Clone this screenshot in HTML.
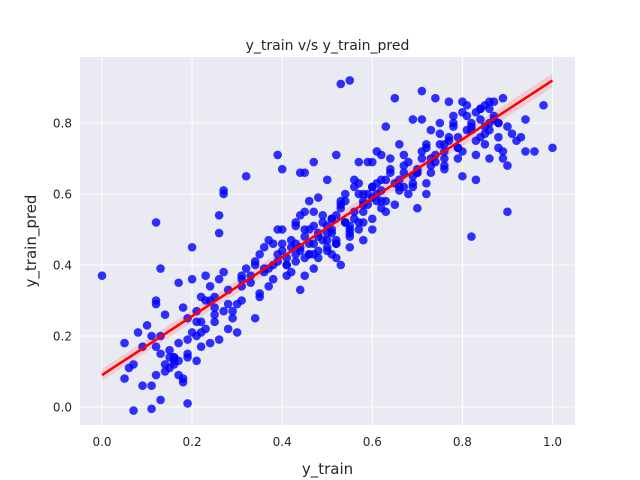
<!DOCTYPE html>
<html><head><meta charset="utf-8">
<style>
html,body{margin:0;padding:0;background:#fff;}
svg{display:block;font-family:"DejaVu Sans","Liberation Sans",sans-serif;}
</style></head>
<body>
<svg id="chart" width="640" height="480">
<rect x="80" y="57" width="495" height="368" fill="#eaeaf2"/>
<g id="grid"></g>
<g id="band"></g>
<g id="pts"></g>
<g id="line"></g>
<g id="ticks"></g>
<text x="327.5" y="50" text-anchor="middle" font-size="14" fill="#262626">y_train v/s y_train_pred</text>
<text x="327.5" y="474" text-anchor="middle" font-size="15" fill="#262626">y_train</text>
<text transform="translate(36,241) rotate(-90)" text-anchor="middle" font-size="15" fill="#262626">y_train_pred</text>
</svg>
<script>
const xTicks=[0,0.2,0.4,0.6,0.8,1.0];
const yTicks=[0,0.2,0.4,0.6,0.8];
const xTickLabels=["0.0","0.2","0.4","0.6","0.8","1.0"];
const yTickLabels=["0.0","0.2","0.4","0.6","0.8"];
const fitX=[0,1];
const fitY=[0.09,0.92];
// [y_train, y_train_pred] pairs
const trainPairs=[
[0,0.37],[0.12,0.52],[0.53,0.91],[0.55,0.92],[0.82,0.48],[0.90,0.55],[1.0,0.73],[0.98,0.85],
[0.07,-0.01],[0.11,-0.005],[0.19,0.01],[0.27,0.61],[0.27,0.60],[0.39,0.71],[0.32,0.65],[0.40,0.67],
[0.05,0.18],[0.05,0.08],[0.08,0.21],[0.07,0.12],[0.06,0.11],[0.09,0.06],[0.11,0.06],[0.12,0.09],
[0.12,0.30],[0.12,0.29],[0.13,0.02],[0.12,0.17],[0.13,0.20],[0.14,0.10],[0.15,0.16],[0.16,0.12],
[0.15,0.11],[0.16,0.14],[0.17,0.18],[0.17,0.35],[0.18,0.28],[0.18,0.08],[0.17,0.13],[0.19,0.19],
[0.19,0.14],[0.20,0.21],[0.20,0.36],[0.21,0.27],[0.21,0.13],[0.22,0.17],[0.22,0.24],[0.20,0.45],
[0.16,0.13],[0.18,0.07],[0.14,0.26],[0.13,0.39],[0.10,0.23],[0.09,0.17],[0.11,0.20],[0.13,0.15],
[0.15,0.14],[0.17,0.09],[0.19,0.25],[0.21,0.20],[0.23,0.22],[0.24,0.30],[0.25,0.24],[0.23,0.37],
[0.24,0.18],[0.26,0.36],[0.25,0.31],[0.27,0.27],[0.26,0.19],[0.28,0.29],[0.27,0.38],[0.29,0.25],
[0.30,0.21],[0.31,0.37],[0.30,0.29],[0.32,0.39],[0.31,0.30],[0.33,0.35],[0.34,0.41],[0.33,0.37],
[0.35,0.32],[0.34,0.25],[0.36,0.38],[0.35,0.43],[0.37,0.47],[0.36,0.39],[0.38,0.46],[0.37,0.34],
[0.39,0.41],[0.38,0.36],[0.40,0.44],[0.39,0.50],[0.41,0.40],[0.40,0.46],[0.42,0.47],[0.41,0.42],
[0.43,0.52],[0.42,0.38],[0.44,0.45],[0.43,0.41],[0.45,0.48],[0.44,0.44],[0.46,0.50],[0.45,0.42],
[0.47,0.55],[0.46,0.46],[0.48,0.49],[0.47,0.43],[0.49,0.52],[0.48,0.48],[0.50,0.47],[0.49,0.54],
[0.51,0.50],[0.50,0.44],[0.52,0.54],[0.51,0.49],[0.53,0.58],[0.52,0.47],[0.54,0.52],[0.53,0.56],
[0.55,0.50],[0.54,0.60],[0.56,0.55],[0.55,0.49],[0.57,0.52],[0.56,0.62],[0.58,0.57],[0.57,0.50],
[0.59,0.60],[0.58,0.55],[0.60,0.62],[0.59,0.57],[0.61,0.58],[0.60,0.50],[0.62,0.64],[0.61,0.60],
[0.63,0.55],[0.62,0.61],[0.64,0.67],[0.63,0.58],[0.65,0.63],[0.64,0.70],[0.66,0.62],[0.65,0.57],
[0.67,0.68],[0.66,0.64],[0.68,0.60],[0.67,0.66],[0.69,0.63],[0.68,0.69],[0.70,0.67],[0.69,0.62],
[0.71,0.72],[0.70,0.66],[0.72,0.63],[0.71,0.70],[0.73,0.68],[0.72,0.73],[0.74,0.71],[0.73,0.66],
[0.75,0.74],[0.74,0.69],[0.76,0.72],[0.75,0.77],[0.77,0.76],[0.76,0.70],[0.78,0.80],[0.77,0.75],
[0.79,0.73],[0.78,0.79],[0.80,0.83],[0.79,0.76],[0.81,0.78],[0.80,0.72],[0.82,0.80],[0.81,0.82],
[0.83,0.75],[0.82,0.79],[0.84,0.81],[0.83,0.71],[0.85,0.77],[0.84,0.84],[0.86,0.80],[0.85,0.74],
[0.87,0.82],[0.86,0.78],[0.88,0.76],[0.87,0.86],[0.89,0.72],[0.88,0.80],[0.90,0.79],[0.89,0.70],
[0.91,0.77],[0.92,0.75],[0.93,0.76],[0.94,0.72],[0.96,0.72],[0.26,0.54],[0.26,0.49],[0.23,0.30],
[0.21,0.24],[0.25,0.26],[0.22,0.31],[0.28,0.22],[0.24,0.34],[0.29,0.27],[0.31,0.36],[0.35,0.31],
[0.38,0.40],[0.41,0.37],[0.43,0.46],[0.46,0.43],[0.44,0.33],[0.47,0.39],[0.52,0.42],[0.55,0.45],
[0.50,0.51],[0.53,0.40],[0.48,0.44],[0.45,0.37],[0.42,0.45],[0.39,0.43],[0.36,0.45],[0.40,0.50],
[0.44,0.54],[0.49,0.47],[0.51,0.53],[0.54,0.58],[0.57,0.60],[0.60,0.62],[0.62,0.56],[0.58,0.60],
[0.56,0.53],[0.53,0.57],[0.50,0.45],[0.47,0.46],[0.45,0.50],[0.52,0.46],[0.55,0.51],[0.58,0.58],
[0.61,0.63],[0.64,0.66],[0.67,0.62],[0.70,0.66],[0.73,0.70],[0.76,0.68],[0.79,0.73],[0.82,0.78],
[0.85,0.79],[0.87,0.81],[0.84,0.84],[0.81,0.85],[0.78,0.82],[0.75,0.80],[0.72,0.74],[0.69,0.65],
[0.66,0.61],[0.63,0.64],[0.60,0.59],[0.57,0.63],[0.54,0.52],[0.51,0.53],[0.48,0.59],[0.45,0.55],
[0.43,0.51],[0.41,0.40],[0.37,0.39],[0.34,0.40],[0.31,0.34],[0.28,0.33],[0.25,0.28],[0.22,0.21],
[0.19,0.15],[0.16,0.14],[0.14,0.12],[0.63,0.79],[0.65,0.87],[0.71,0.89],[0.74,0.87],[0.77,0.86],
[0.80,0.86],[0.83,0.83],[0.86,0.86],[0.88,0.80],[0.85,0.85],[0.76,0.74],[0.79,0.70],[0.84,0.76],
[0.86,0.84],[0.89,0.87],[0.72,0.60],[0.70,0.56],[0.66,0.74],[0.60,0.69],[0.56,0.64],[0.50,0.64],
[0.46,0.43],[0.43,0.43],[0.47,0.51],[0.52,0.46],[0.58,0.52],[0.62,0.58],[0.48,0.42],[0.50,0.49],
[0.55,0.48],[0.58,0.47],[0.60,0.53],[0.51,0.43],[0.46,0.58],[0.44,0.66],[0.45,0.66],[0.47,0.69],
[0.52,0.71],[0.57,0.69],[0.59,0.69],[0.61,0.72],[0.62,0.71],[0.67,0.71],[0.69,0.81],[0.71,0.81],
[0.73,0.78],[0.76,0.67],[0.80,0.65],[0.83,0.64],[0.86,0.70],[0.88,0.73],[0.90,0.68],[0.94,0.81]
];
const trainX=trainPairs.map(p=>p[0]);
const predY=trainPairs.map(p=>p[1]);
const X0=102,XS=450.5,Y0=407,YS=355;
const sx=v=>X0+v*XS, sy=v=>Y0-v*YS;
const NS='http://www.w3.org/2000/svg';
function mk(tag,attrs,parent){const e=document.createElementNS(NS,tag);for(const k in attrs)e.setAttribute(k,attrs[k]);parent.appendChild(e);return e;}
const grid=document.getElementById('grid'),ticks=document.getElementById('ticks');
xTicks.forEach((t,i)=>{
  const g=mk('line',{x1:sx(t),x2:sx(t),y1:57,y2:425,stroke:'#fff','stroke-width':1},grid);
  
  
  const tx=mk('text',{x:sx(t),y:446,'text-anchor':'middle','font-size':12,fill:'#262626'},ticks);
  tx.textContent=xTickLabels[i];
  
  
});
yTicks.forEach((t,i)=>{
  const g=mk('line',{x1:80,x2:575,y1:sy(t),y2:sy(t),stroke:'#fff','stroke-width':1},grid);
  
  
  const tx=mk('text',{x:72,y:sy(t)+4.5,'text-anchor':'end','font-size':12,fill:'#262626'},ticks);
  tx.textContent=yTickLabels[i];
  
  
});
const pts=document.getElementById('pts');
trainX.forEach((x,i)=>{
  const c=mk('circle',{cx:sx(x),cy:sy(predY[i]),r:4.3,fill:'#0000ff','fill-opacity':0.8},pts);
  
  
});
const band=mk('polygon',{points:`${sx(fitX[0])},${sy(fitY[0])-6} ${sx(fitX[1])},${sy(fitY[1])-7} ${sx(fitX[1])},${sy(fitY[1])+7} ${sx(fitX[0])},${sy(fitY[0])+6}`,fill:'#ff0000','fill-opacity':0.12},document.getElementById('band'));


const ln=mk('line',{x1:sx(fitX[0]),y1:sy(fitY[0]),x2:sx(fitX[1]),y2:sy(fitY[1]),stroke:'#ff0000','stroke-width':2.5},document.getElementById('line'));


</script>
</body></html>
